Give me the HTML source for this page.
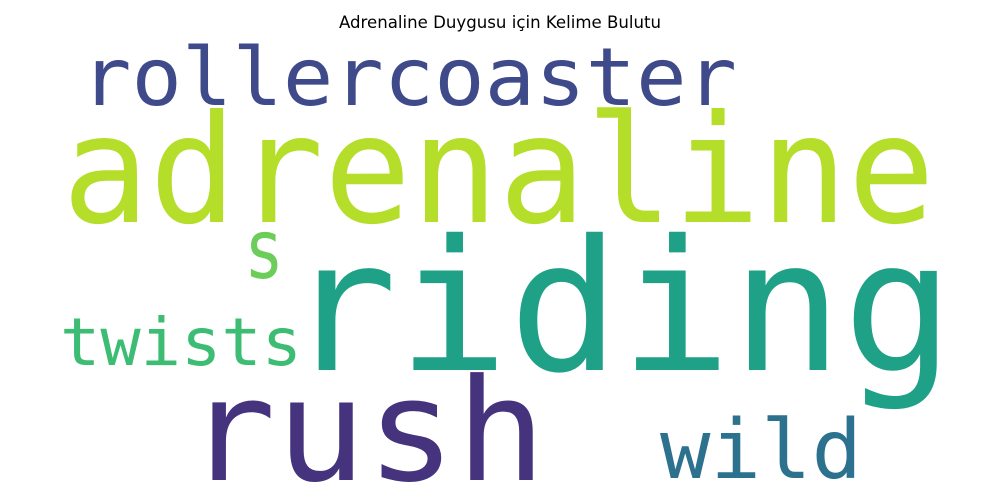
<!DOCTYPE html>
<html><head><meta charset="utf-8">
<style>
html,body{margin:0;padding:0;background:#fff;}
svg{display:block;}
</style></head>
<body>
<svg id="cloud" width="1000" height="500" viewBox="0 0 1000 500" xmlns="http://www.w3.org/2000/svg">
<rect width="1000" height="500" fill="#fff"/>
<text x="500" y="28" text-anchor="middle" font-family="DejaVu Sans, Liberation Sans, sans-serif" font-size="16.6" fill="#000">Adrenaline Duygusu için Kelime Bulutu</text>
</svg>
<script>
const words = ["rollercoaster","adrenaline","riding","rush","s","twists","wild"];
const fontSizes = [80,150,182,142,82,66,82];
const colors = ["#3e4a89","#b5de2b","#1fa187","#46337e","#6ccd5a","#3dbc74","#2c728e"];
const layout = [[81,105,656],[62,222,873],[286,370,668],[186,480,360],[244,278,40],[60,365,242],[660,478,202]];
const svg = document.getElementById('cloud');
words.forEach((w,i)=>{
  const t = document.createElementNS('http://www.w3.org/2000/svg','text');
  t.setAttribute('x', layout[i][0]);
  t.setAttribute('y', layout[i][1]);
  t.setAttribute('font-family','DejaVu Sans Mono, Liberation Mono, monospace');
  t.setAttribute('font-size', fontSizes[i]);
  t.setAttribute('fill', colors[i]);
  t.setAttribute('textLength', layout[i][2]);
  t.setAttribute('lengthAdjust','spacingAndGlyphs');
  
  
  t.textContent = w;
  svg.appendChild(t);
});
</script>
</body></html>
